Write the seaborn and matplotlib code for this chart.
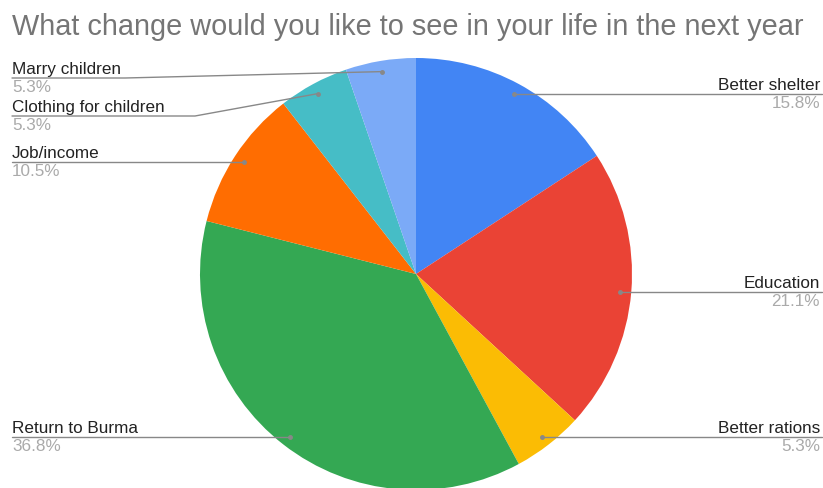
import numpy as np
import matplotlib
matplotlib.use("Agg")
from matplotlib import pyplot as plt
import seaborn as sns

# Survey answers (counts out of 19 respondents)
categories = ['Better shelter', 'Education', 'Better rations', 'Return to Burma',
              'Job/income', 'Clothing for children', 'Marry children']
counts = [3, 4, 1, 7, 2, 1, 1]
colors = ['#4285F4', '#EA4335', '#FBBC04', '#34A853', '#FF6D01', '#46BDC6', '#7BAAF7']

# label layout: side and y of the label line (pixels from top)
sides = ['right', 'right', 'right', 'left', 'left', 'left', 'left']
line_y = [95, 293, 438, 438, 163, 117, 79]
text_end = [0, 0, 0, 0, 0, 195, 125]

sns.set_theme(style='white')
plt.rcParams['font.family'] = ['Liberation Sans', 'DejaVu Sans']

W, H = 823, 489
fig = plt.figure(figsize=(W / 100, H / 100), dpi=100)
ax = fig.add_axes([0, 0, 1, 1])

cx, cy, r = 416, H - 275, 216
wedges, _ = ax.pie(counts, colors=colors, startangle=90, counterclock=False,
                   center=(cx, cy), radius=r, frame=True,
                   wedgeprops=dict(linewidth=0))
ax.set_xlim(0, W)
ax.set_ylim(0, H)
ax.set_aspect('equal')
ax.axis('off')

total = sum(counts)
fs = 12.3
for w, name, n, side, ly, te in zip(wedges, categories, counts, sides, line_y, text_end):
    mid = np.deg2rad((w.theta1 + w.theta2) / 2)
    dx = cx + 0.95 * r * np.cos(mid)
    dy = cy + 0.95 * r * np.sin(mid)
    y = H - ly
    pct = f'{100 * n / total:.1f}%'
    if side == 'right':
        ax.plot([dx, 822], [y, y], color='#888888', lw=1)
        ax.text(820, y + 2, name, ha='right', va='bottom', fontsize=fs, color='#222222')
        ax.text(820, y - 1, pct, ha='right', va='top', fontsize=fs, color='#aaaaaa')
    else:
        if te:
            ax.plot([12, te, dx], [y, y, dy], color='#888888', lw=1)
        else:
            ax.plot([12, dx], [y, y], color='#888888', lw=1)
        ax.text(12, y + 2, name, ha='left', va='bottom', fontsize=fs, color='#222222')
        ax.text(12, y - 1, pct, ha='left', va='top', fontsize=fs, color='#aaaaaa')
    ax.plot(dx, dy if te else y, 'o', ms=2.5, color='#888888')

fig.text(12 / W, 1 - 27 / H, 'What change would you like to see in your life in the next year',
         ha='left', va='center', fontsize=20.8, color='#757575')

fig.savefig('out.png', dpi=100)
